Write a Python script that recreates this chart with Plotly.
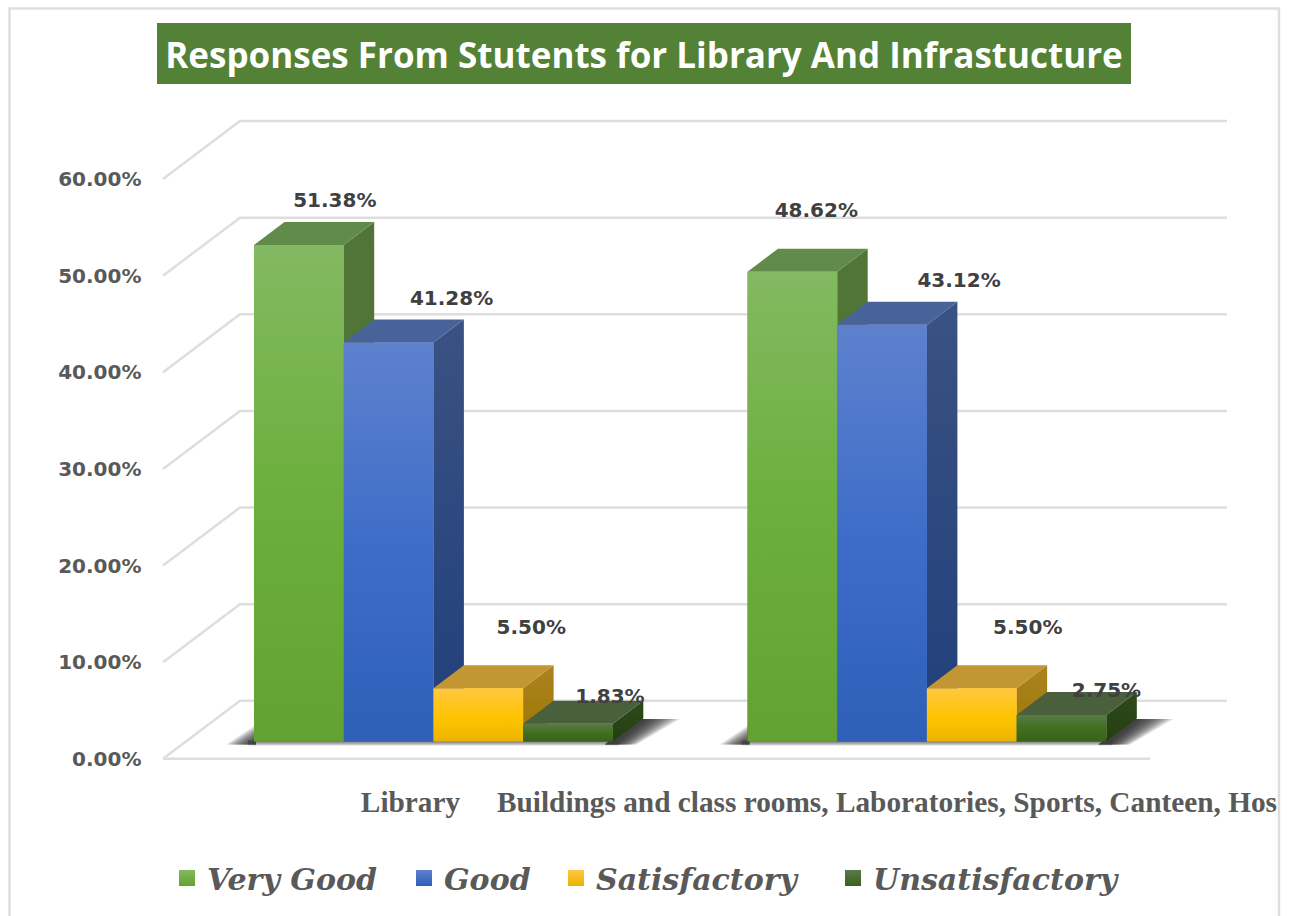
import plotly.graph_objects as go

TITLE = "Responses From Stutents for Library And Infrastucture"
CATEGORIES = ["Library", "Buildings and class rooms, Laboratories, Sports, Canteen, Hos"]
SERIES = ["Very Good", "Good", "Satisfactory", "Unsatisfactory"]
VERY_GOOD = [51.38, 48.62]
GOOD = [41.28, 43.12]
SATISFACTORY = [5.50, 5.50]
UNSATISFACTORY = [1.83, 2.75]
Y_TICKS = [0, 10, 20, 30, 40, 50, 60]

VALUES = [VERY_GOOD, GOOD, SATISFACTORY, UNSATISFACTORY]

# ---- style / layout
W, H = 1291, 916
PX = 9.663            # pixels per percentage point
BASE_Y = 741.5        # pixel row of value 0 on the bar plane
FRONT_Y = 758.8       # pixel row of value 0 on the front edge of the floor
GROUP_LEFT = [254.0, 747.5]
BAR_W = 89.7
DX, DY = 30.5, 23.0
WALL_DX, WALL_DY = 77.0, 58.0
FRONT_X = 163.0
WALL_END = 1227.0
FLOOR_END = 1150.0
GRID = "#dedede"
TEXT_GREY = "#595959"
LABEL_GREY = "#404040"
FRONT = [
    [[0, "#63a232"], [0.5, "#6caf3c"], [1, "#83b962"]],
    [[0, "#2e60b8"], [0.5, "#3e6dc8"], [1, "#5e81cd"]],
    [[0, "#ecb400"], [0.45, "#ffc400"], [1, "#ffc740"]],
    [[0, "#39621b"], [0.5, "#40701f"], [1, "#5a7a48"]],
]
SIDE = [
    [[0, "#517537"], [1, "#517537"]],
    [[0, "#203f7b"], [1, "#3a5283"]],
    [[0, "#9c7800"], [1, "#ab8222"]],
    [[0, "#243f10"], [1, "#2e4a1c"]],
]
TOP = ["#618b4a", "#48639a", "#c29632", "#4a5f3b"]
SOLID = ["#6caf3c", "#3e6dc8", "#ffc400", "#40701f"]
# data label offsets from the bar's front top centre, in pixels
LABEL_DX = [[36, 63, 53, 42], [24, 77, 56, 45]]
LABEL_DY = [[-43, -43, -59, -26], [-60, -43, -59, -23]]
LEGEND_X = [167, 404, 556, 833]

fig = go.Figure()

# base subplot: walls and floor, with the labelled axis
px_units = lambda p: p / PX
gx, gy = [], []
for t in Y_TICKS:
    gx += [FRONT_X, FRONT_X + WALL_DX, WALL_END, None]
    gy += [t, t + px_units(WALL_DY), t + px_units(WALL_DY), None]
fig.add_trace(go.Scatter(x=gx, y=gy, mode="lines", line=dict(color=GRID, width=2.5),
                         xaxis="x", yaxis="y", hoverinfo="skip", showlegend=False))
fig.add_trace(go.Scatter(x=[FRONT_X, FLOOR_END], y=[0, 0], mode="lines", line=dict(color=GRID, width=2.5),
                         xaxis="x", yaxis="y", hoverinfo="skip", showlegend=False))

def poly(xs, ys, fill=None, grad=None, orient="vertical"):
    kw = dict(fillcolor=fill) if fill else dict(fillgradient=dict(type=orient, colorscale=grad))
    fig.add_trace(go.Scatter(x=xs + xs[:1], y=ys + ys[:1], mode="lines", fill="toself",
                             line=dict(width=0), xaxis="x", yaxis="y2",
                             hoverinfo="skip", showlegend=False, **kw))

# floor shadows under each group of bars: soft edges built from stacked translucent strips
u = px_units
STEPS = 20
for left in GROUP_LEFT:
    right = left + 4 * BAR_W
    for k in range(STEPS, 0, -1):
        t = k / STEPS
        # right-hand shadow: grows from the bar's side to the outer fade
        poly([right - 8, right + 22 * t + 2, right + DX + 36 * t + 1, right + DX - 4],
             [u(-3), u(-3), u(DY - 0.5), u(DY - 0.5)], fill="rgba(30,30,30,0.085)")
        # left-hand shadow: triangle fading away from the bar's corner
        poly([left - 28 * t, left + 2, left + 2], [u(-3), u(-3 + 20 * t), u(-3)], fill="rgba(30,30,30,0.085)")
    for k in range(1, 5):
        poly([left - 6, right + 6, right + 6, left - 6], [u(-k), u(-k), u(1), u(1)], fill="rgba(60,60,60,0.2)")

# bars: real bar marks, each with its 3D faces derived from the value
for s, name in enumerate(SERIES):
    fig.add_trace(go.Bar(
        x=[GROUP_LEFT[g] + (s + 0.5) * BAR_W for g in range(2)], y=VALUES[s], width=BAR_W,
        marker=dict(color=SOLID[s], line=dict(width=0)), name=name, showlegend=False,
        xaxis="x", yaxis="y2", hovertemplate="%{y:.2f}%<extra>" + name + "</extra>"))

for g in range(2):
    for s in range(4):
        v = VALUES[s][g]
        x0 = GROUP_LEFT[g] + s * BAR_W
        x1 = x0 + BAR_W
        d = px_units(DY)
        poly([x1, x1 + DX, x1 + DX, x1], [0, d, v + d, v], grad=SIDE[s])
        poly([x0, x0 + DX, x1 + DX, x1], [v, v + d, v + d, v], fill=TOP[s])
        poly([x0, x1, x1, x0], [0, 0, v, v], grad=FRONT[s])

# data labels
lx, ly, lt = [], [], []
for g in range(2):
    for s in range(4):
        v = VALUES[s][g]
        lx.append(GROUP_LEFT[g] + (s + 0.5) * BAR_W + LABEL_DX[g][s])
        ly.append(v - px_units(LABEL_DY[g][s]))
        lt.append(f"{v:.2f}%")
fig.add_trace(go.Scatter(x=lx, y=ly, text=lt, mode="text", textposition="middle center",
                         textfont=dict(family="DejaVu Sans", size=20, color=LABEL_GREY, weight="bold"),
                         xaxis="x", yaxis="y2", hoverinfo="skip", showlegend=False))

# legend entries: one legend per entry so that each can be placed on its own
legend_font = dict(family="DejaVu Serif", size=30, color=TEXT_GREY, weight="bold", style="italic")
legends = {}
for s, name in enumerate(SERIES):
    key = "legend" if s == 0 else f"legend{s + 1}"
    fig.add_trace(go.Scatter(
        x=[None], y=[None], mode="markers", name=name, xaxis="x", yaxis="y2", legend=key, showlegend=True,
        marker=dict(symbol="square", size=18, color=FRONT[s][2][1],
                    gradient=dict(type="vertical", color=FRONT[s][0][1]), line=dict(width=0))))
    legends[key] = dict(orientation="h", x=LEGEND_X[s] / W, xanchor="left", y=1 - 878 / H, yanchor="middle",
                        font=legend_font, bgcolor="rgba(0,0,0,0)", itemclick=False, itemdoubleclick=False)

fig.update_layout(
    width=W, height=H, autosize=False,
    margin=dict(l=0, r=0, t=0, b=0), paper_bgcolor="white", plot_bgcolor="rgba(0,0,0,0)",
    barmode="overlay",
    title=dict(text=TITLE, x=644 / W, xanchor="center", y=1 - 56 / H, yanchor="middle",
               font=dict(family="Open Sans", size=35, color="white", weight="bold")),
    xaxis=dict(range=[0, W], domain=[0, 1], anchor="free", position=(H - 782) / H,
               tickmode="array", tickvals=[410.5, 887], ticktext=CATEGORIES, ticks="",
               showgrid=False, zeroline=False, showline=False,
               tickfont=dict(family="Liberation Serif", size=29.3, color=TEXT_GREY, weight="bold")),
    yaxis=dict(range=[-(H - FRONT_Y) / PX, FRONT_Y / PX], domain=[0, 1], anchor="free", position=141.5 / W,
               tickmode="array", tickvals=Y_TICKS, ticktext=[f"{t:.2f}%" for t in Y_TICKS],
               ticks="", showgrid=False, zeroline=False, showline=False,
               tickfont=dict(family="DejaVu Sans", size=20, color=TEXT_GREY, weight="bold")),
    yaxis2=dict(range=[-(H - BASE_Y) / PX, BASE_Y / PX], domain=[0, 1], overlaying="y",
                visible=False, anchor="free", position=0),
    shapes=[
        dict(type="rect", xref="paper", yref="paper", x0=157 / W, x1=1131 / W, y0=1 - 84 / H, y1=1 - 23 / H,
             fillcolor="#538135", line=dict(width=0), layer="below"),
        dict(type="path", xref="paper", yref="paper",
             path=f"M {9.5/W} 0 L {9.5/W} {1-8.5/H} L {1279/W} {1-8.5/H} L {1279/W} 0",
             line=dict(color=GRID, width=2.5), layer="below"),
    ],
    **legends,
)

fig.write_html("out.html", config=dict(displayModeBar=False),
               post_script="document.body.style.margin='0';document.documentElement.style.overflow='hidden';")
